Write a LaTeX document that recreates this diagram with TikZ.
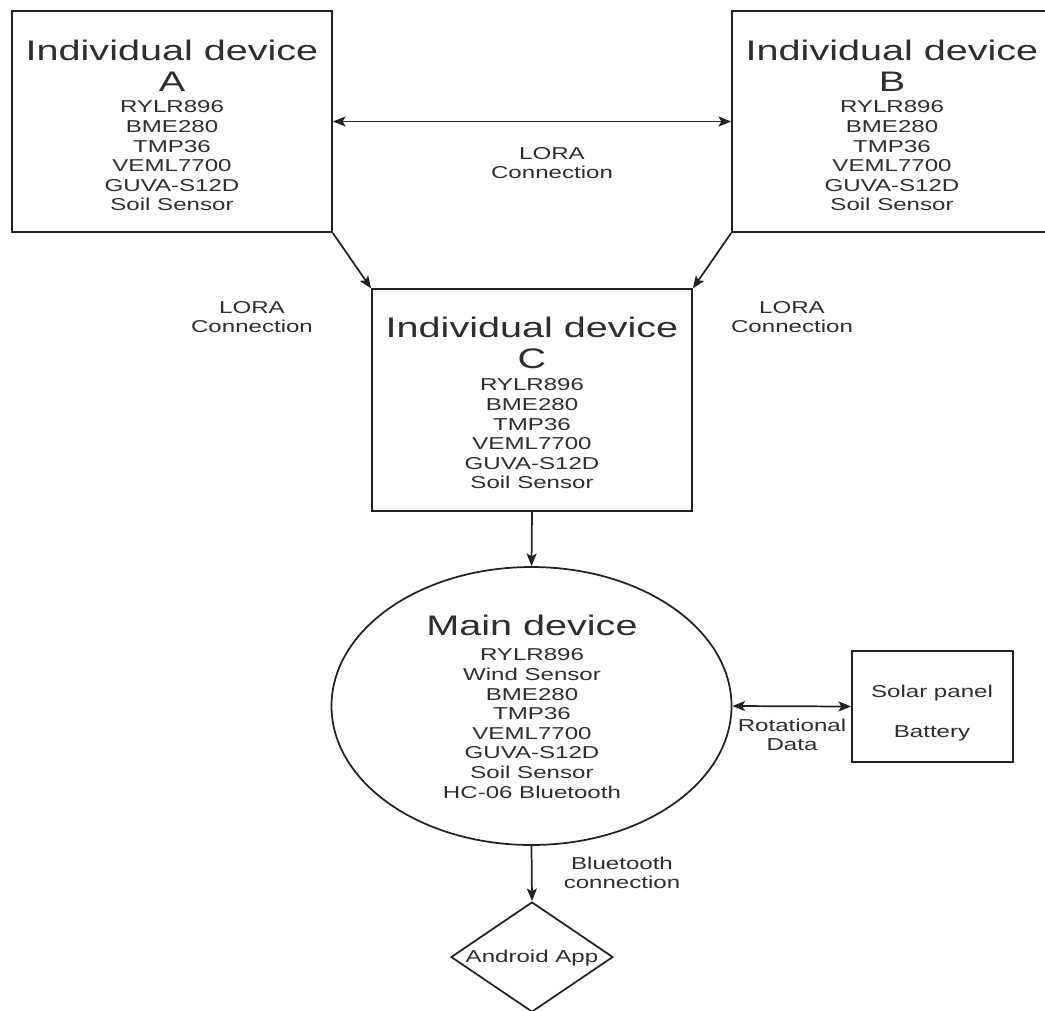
\documentclass[tikz,border=0pt]{standalone}
\usepackage{fontspec}
\setmainfont{Liberation Sans}
\newfontfamily\dfont[FakeStretch=1.4]{Liberation Sans}
\usetikzlibrary{shapes.geometric,arrows.meta}
\definecolor{linecol}{HTML}{222222}
\definecolor{txtcol}{HTML}{2E2E2E}
\begin{document}
\begin{tikzpicture}[x=0.75pt,y=-0.75pt,
  devbox/.style={draw=linecol, line width=1.3pt, minimum width=240pt, minimum height=166pt, inner sep=0pt},
  ttl/.style={text=txtcol, font=\dfont\fontsize{21.2}{23.25}\selectfont, align=center, inner sep=0pt},
  lst/.style={text=txtcol, font=\dfont\fontsize{12.9}{14.7}\selectfont, align=center, inner sep=0pt},
  lbl/.style={text=txtcol, font=\dfont\fontsize{12.9}{14.3}\selectfont, align=center, inner sep=0pt},
  tip/.tip={Stealth[length=9.5pt,width=7.5pt,inset=2.2pt]},
  conn/.style={draw=linecol, line width=1.3pt, -tip},
  biconn/.style={draw=linecol, line width=1.3pt, tip-tip}
]
\useasboundingbox (0,0) rectangle (1045,1010);
\fill[white] (0,0) rectangle (1045,1010);

% boxes
\node[devbox] (A) at (172,121.5) {};
\node[devbox] (B) at (892,121.5) {};
\node[devbox] (C) at (532,400) {};
\node[draw=linecol, line width=1.3pt, ellipse, minimum width=300pt, minimum height=208.5pt, inner sep=0pt] (M) at (531.5,706) {};
\node[draw=linecol, line width=1.3pt, minimum width=120.75pt, minimum height=83.25pt, inner sep=0pt] (S) at (932.5,706.5) {};
\node[draw=linecol, line width=1.3pt, diamond, minimum width=121.5pt, minimum height=82.5pt, inner sep=0pt] (P) at (532,957) {};

% texts in boxes
\node[ttl] (At) at (172,66) {Individual device\\A};
\node[lst] (Al) at (172,156) {RYLR896\\BME280\\TMP36\\VEML7700\\GUVA-S12D\\Soil Sensor};
\node[ttl] (Bt) at (892,66) {Individual device\\B};
\node[lst] (Bl) at (892,156) {RYLR896\\BME280\\TMP36\\VEML7700\\GUVA-S12D\\Soil Sensor};
\node[ttl] (Ct) at (532,343) {Individual device\\C};
\node[lst] (Cl) at (532,434) {RYLR896\\BME280\\TMP36\\VEML7700\\GUVA-S12D\\Soil Sensor};
\node[ttl] (Mt) at (532,625) {Main device};
\node[lst] (Ml) at (532,723.5) {RYLR896\\Wind Sensor\\BME280\\TMP36\\VEML7700\\GUVA-S12D\\Soil Sensor\\HC-06 Bluetooth};
\node[lbl] (St) at (932,713) {Solar panel\\[15.5pt]Battery};
\node[lbl] (Pt) at (532,958) {Android App};

% connectors
\draw[biconn] (A.east) -- (B.west);
\draw[conn] (A.south east) -- (C.north west);
\draw[conn] (B.south west) -- (C.north east);
\draw[conn] (C.south) -- (M.north);
\draw[biconn] (M.east) -- (S.west);
\draw[conn] (M.south) -- (P.north);

% connector labels
\node[lbl] (L1) at (552,163.5) {LORA\\Connection};
\node[lbl] (L2) at (252,317.5) {LORA\\Connection};
\node[lbl] (L3) at (792,317.5) {LORA\\Connection};
\node[lbl] (L4) at (792,735) {Rotational\\Data};
\node[lbl] (L5) at (622,873) {Bluetooth\\connection};
\end{tikzpicture}
\end{document}
